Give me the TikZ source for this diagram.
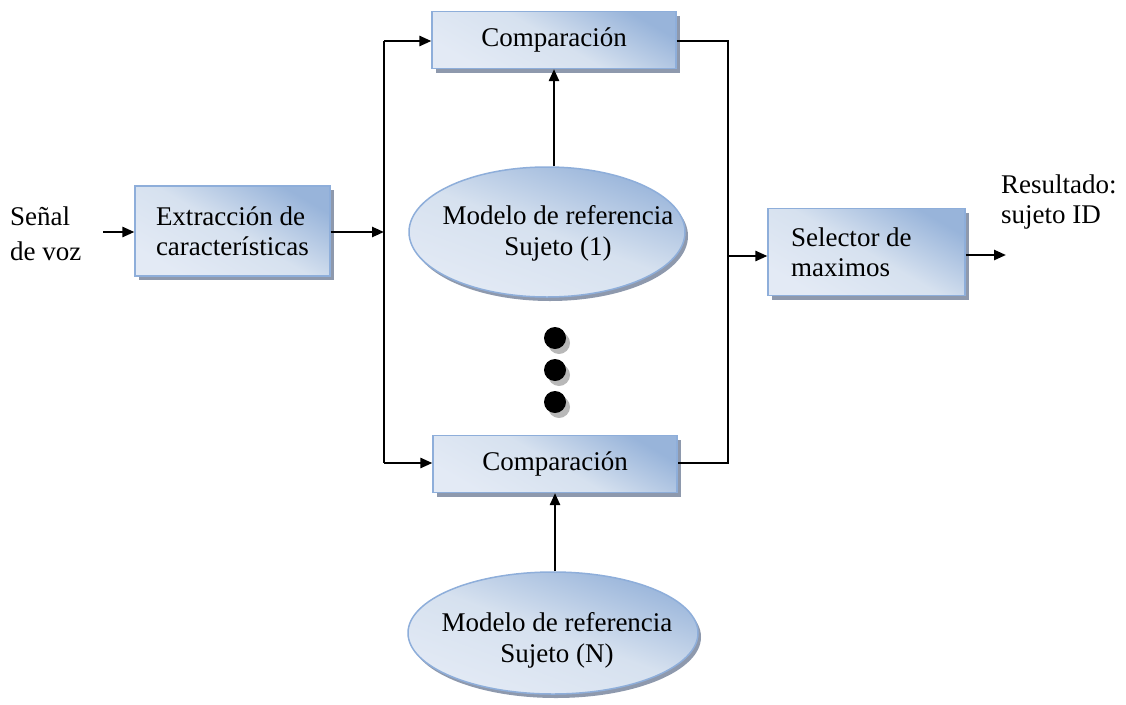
\documentclass[tikz,border=0pt]{standalone}
\usepackage{fontspec}
\setmainfont{Liberation Serif}
\usetikzlibrary{arrows.meta,shapes.geometric,shadows}

\definecolor{blueDark}{HTML}{98B4DA}
\definecolor{blueMid}{HTML}{D6E1EF}
\definecolor{blueLight}{HTML}{E3EAF5}
\definecolor{blueEdge}{HTML}{8EAEDA}
\definecolor{shadowTone}{HTML}{8E99AD}

\tikzset{
  panel/.style={draw=blueEdge, line width=1.2pt,
    top color=blueDark, bottom color=blueLight, middle color=blueMid,
    shading angle=-30,
    general shadow={fill=shadowTone, shadow xshift=4pt, shadow yshift=-4pt},
    font=\fontsize{27}{30}\selectfont, inner ysep=0pt},
  oval/.style={ellipse, draw=blueEdge, line width=1.5pt,
    top color=blueDark, bottom color=blueLight, middle color=blueMid,
    shading angle=-20,
    general shadow={fill=shadowTone, shadow xshift=3pt, shadow yshift=-4pt},
    inner sep=0pt},
  ovaltext/.style={align=center, inner sep=0pt, font=\fontsize{27}{31}\selectfont},
  plain/.style={font=\fontsize{27}{30}\selectfont, inner sep=0pt, align=left},
  wire/.style={line width=2.5pt, black},
  flow/.style={wire, -{Triangle[length=12pt,width=10pt]}},
  dot/.style={circle, fill=black, minimum size=22pt, inner sep=0pt},
  dotshade/.style={circle, fill=black!28, minimum size=22pt, inner sep=0pt}
}

\begin{document}
\begin{tikzpicture}[x=1pt, y=-1pt]
\useasboundingbox (0,0) rectangle (1126,704);

% input and output labels
\node[plain, anchor=west, font=\fontsize{27}{35}\selectfont] (senal) at (10,234) {Señal\\de voz};
\node[plain, anchor=west] (res) at (1001,202) {Resultado:\\sujeto ID};

% processing blocks
\node[panel, minimum width=195pt, minimum height=90pt, text width=153pt,
      inner xsep=21pt, align=flush left] (ext) at (232.5,231) {Extracción de\\características};
\node[panel, minimum width=244pt, minimum height=57pt] (c1) at (554,40) {Comparación};
\node[panel, minimum width=244pt, minimum height=57pt] (cN) at (555,464) {Comparación};
\node[panel, minimum width=197pt, minimum height=87pt, text width=151pt,
      inner xsep=23pt, align=flush left] (sel) at (866.5,252) {Selector de\\maximos};

% reference models
\node[oval, minimum width=276pt, minimum height=130pt] (e1) at (547,232) {};
\node[ovaltext] (t1) at (558,233) {Modelo de referencia\\Sujeto (1)};
\node[oval, minimum width=290pt, minimum height=122pt] (eN) at (553,633) {};
\node[ovaltext] (tN) at (557,640) {Modelo de referencia\\Sujeto (N)};

% vertical ellipsis
\foreach \i/\yy in {1/338, 2/370, 3/402} {
  \node[dotshade] (ds\i) at (559,\yy+5) {};
  \node[dot] (d\i) at (555,\yy) {};
}

% junction points of the two buses
\coordinate (in) at (103,232);
\coordinate (lt) at (384,41);
\coordinate (lb) at (384,463);
\coordinate (rt) at (728,41);
\coordinate (rb) at (728,463);
\coordinate (rj) at (728,256);
\coordinate (out) at (1006,255);

% connectors
\draw[flow] (in) -- (in -| ext.west);
\draw[flow] (ext.east |- in) -- (in -| lt);
\draw[wire] (lt) -- (lb);
\draw[flow] (lt) -- (lt -| c1.west);
\draw[flow] (lb) -- (lb -| cN.west);
\draw[flow] (e1.north -| c1.south) -- (c1.south);
\draw[flow] (eN.north -| cN.south) -- (cN.south);
\draw[wire] (rt -| c1.east) -- (rt) -- (rb) -- (rb -| cN.east);
\draw[flow] (rj) -- (rj -| sel.west);
\draw[flow] (sel.east |- out) -- (out);
\end{tikzpicture}
\end{document}
